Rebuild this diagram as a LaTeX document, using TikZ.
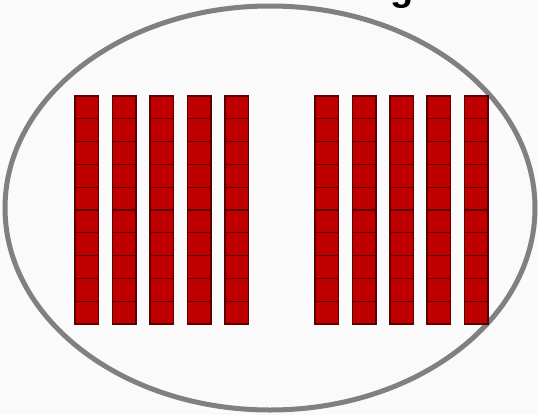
\documentclass[tikz,border=0pt]{standalone}
\usepackage{fontspec}
\setmainfont{Liberation Sans}
\definecolor{bg}{HTML}{FAFAFA}
\definecolor{ringgray}{HTML}{808080}
\definecolor{cellred}{HTML}{C00000}
\definecolor{celledge}{HTML}{5A0000}
\begin{document}
\begin{tikzpicture}[x=1pt,y=-1pt,
  ring/.style={draw=ringgray,line width=5pt},
  cell/.style={fill=cellred,draw=celledge,line width=1.2pt},
  heading/.style={font=\fontsize{38}{38}\selectfont\bfseries,anchor=base west,inner sep=0pt}]
\useasboundingbox (0,0) rectangle (538,415);
\clip (0,0) rectangle (538,415);
\fill[bg] (0,0) rectangle (538,415);
\node[heading] (title) at (390.5,1) {g};
\draw[ring] (270,208) ellipse [x radius=265, y radius=202];
\foreach \x in {75,112.5,150,187.5,225,315,352.5,390,427,464.5}{
  \foreach \r in {0,...,9}{
    \draw[cell] (\x,96+22.8*\r) rectangle ++(23.5,22.8);
  }
}
\end{tikzpicture}
\end{document}
